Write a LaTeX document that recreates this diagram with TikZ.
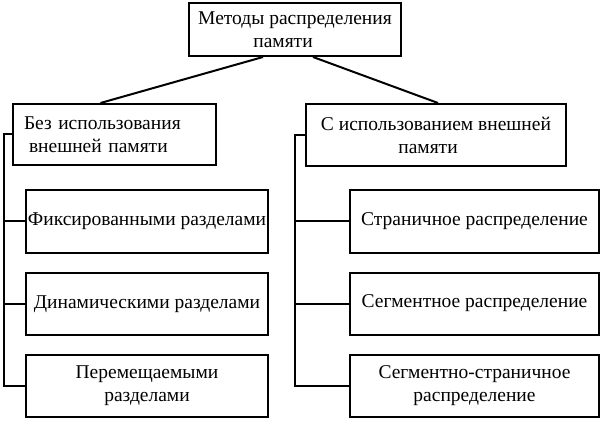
\documentclass[tikz,border=0pt]{standalone}
\usepackage{fontspec}
\setmainfont{Liberation Serif}
\begin{document}
\begin{tikzpicture}[x=1pt,y=-1pt,line width=2pt,
	blk/.style={draw,inner sep=2pt,minimum height=62pt,align=center,font=\fontsize{19.5}{23}\selectfont}]
			      \useasboundingbox (0,0) rectangle (609,427);
			      \node (a) [blk, minimum width=212pt, minimum height=53pt] at (295,29.5) {Методы распределения\\памяти\hspace*{24pt}};
			      \node (b) [blk, below of=a, node distance=105pt, xshift=-180.5pt, minimum width=203pt, minimum height=61pt, text width=181pt, align=left] {Без использования\\\hspace*{5pt}внешней памяти};
			      \node (c) [blk, below of=a, node distance=105.5pt, xshift=141pt, minimum width=260pt] {С использованием внешней\\памяти\hspace*{16pt}};
			      \node (d) [blk, below of=b, node distance=87pt, xshift=32.5pt, minimum width=242pt] {Фиксированными разделами};
			      \node (e) [blk, below of=d, node distance=82.5pt, minimum width=242pt] {Динамическими разделами};
			      \node (f) [blk, below of=e, node distance=81.5pt, minimum width=242pt] {Перемещаемыми\\разделами};
			      \node (g) [blk, below of=c, node distance=86.5pt, xshift=38.5pt, minimum width=249pt] {Страничное распределение};
			      \node (h) [blk, below of=g, node distance=82pt, minimum width=249pt] {Сегментное распределение};
			      \node (i) [blk, below of=h, node distance=82pt, minimum width=249pt] {Сегментно-страничное\\распределение};
			      \draw ([xshift=-32pt]a.south)--([xshift=-14pt]b.north);
			      \draw ([xshift=18pt]a.south)--([xshift=2pt]c.north);
			      \foreach \n in {d,e,f} \draw (b.west)--++(-8,0)|-(\n.west);
			      \foreach \n in {g,h,i} \draw (c.west)--++(-10,0)|-(\n.west);
		      \end{tikzpicture}
\end{document}
